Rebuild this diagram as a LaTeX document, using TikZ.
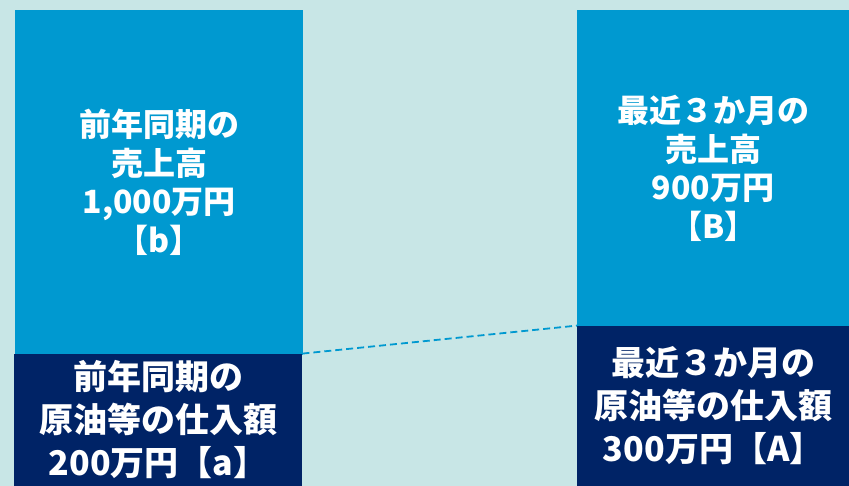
\documentclass[tikz,border=0pt]{standalone}
\usepackage{fontspec}
\newfontfamily\jp{Noto Sans CJK JP}
\definecolor{bgteal}{HTML}{C8E6E6}
\definecolor{salesblue}{HTML}{0099D0}
\definecolor{costnavy}{HTML}{002366}
\begin{document}
\begin{tikzpicture}[x=1pt, y=1pt,
		bar/.style={anchor=south west, inner sep=0pt, text=white, align=center},
		top/.style={bar, fill=salesblue, font=\jp\bfseries\fontsize{32}{38.5}\selectfont},
		bottom/.style={bar, fill=costnavy, font=\jp\bfseries\fontsize{34}{43}\selectfont}]
		%background
		\fill[bgteal] (0,0) rectangle (849,486);
		\useasboundingbox (0,0) rectangle (849,486);
		
		%sales bars
		\node[top, minimum width=288, minimum height=345] (prevsales) at (15,131)
			{前年同期の\\売上高\\1,000万円\\【b】};
		\node[top, minimum width=272, minimum height=317] (recsales) at (577,159)
			{最近３か月の\\売上高\\900万円\\【B】};
		
		%cost bars
		\node[bottom, minimum width=288, minimum height=132] (prevcost) at (14,0)
			{前年同期の\\原油等の仕入額\\200万円【a】};
		\node[bottom, minimum width=272, minimum height=160] (reccost) at (577,0)
			{最近３か月の\\原油等の仕入額\\300万円【A】};
		
		\draw[salesblue, line width=1.8, dash pattern=on 7 off 4] (prevcost.north east) -- (reccost.north west);
		\end{tikzpicture}
\end{document}
